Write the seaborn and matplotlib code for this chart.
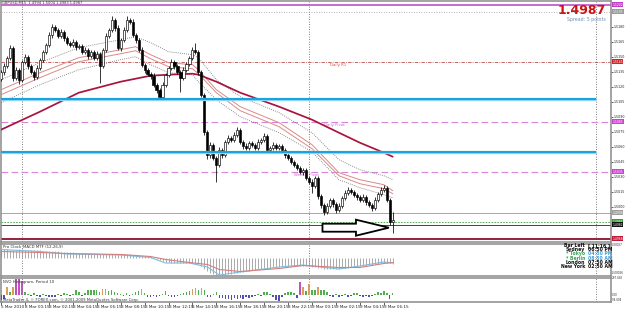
import numpy as np
import pandas as pd
import matplotlib
matplotlib.use("Agg")
import matplotlib.pyplot as plt
import matplotlib.transforms as mtransforms
from matplotlib.patches import FancyArrow
import seaborn as sns

sns.set_theme(style="white")
plt.rcParams['font.family'] = ['DejaVu Sans']

# ---------------- data (GBPUSD M15) ----------------
first_open = 1.5128
close = [
    1.5135, 1.5141, 1.5149, 1.5159, 1.5129, 1.5137, 1.5127, 1.5145, 1.5150, 1.5141,
    1.5135, 1.5130, 1.5139, 1.5147, 1.5155, 1.5162, 1.5172, 1.5180, 1.5177, 1.5171,
    1.5175, 1.5169, 1.5164, 1.5162, 1.5165, 1.5160, 1.5161, 1.5155, 1.5157, 1.5151,
    1.5155, 1.5149, 1.5153, 1.5141, 1.5157, 1.5171, 1.5177, 1.5187, 1.5179, 1.5159,
    1.5167, 1.5177, 1.5187, 1.5185, 1.5172, 1.5167, 1.5157, 1.5142, 1.5137, 1.5133,
    1.5131, 1.5122, 1.5117, 1.5110, 1.5122, 1.5132, 1.5139, 1.5145, 1.5141, 1.5135,
    1.5129, 1.5137, 1.5143, 1.5149, 1.5157, 1.5155, 1.5135, 1.5112, 1.5075, 1.5052,
    1.5062, 1.5049, 1.5042, 1.5057, 1.5052, 1.5065, 1.5069, 1.5067, 1.5072, 1.5077,
    1.5065, 1.5061, 1.5059, 1.5064, 1.5062, 1.5059, 1.5065, 1.5067, 1.5071, 1.5057,
    1.5059, 1.5062, 1.5059, 1.5061, 1.5057, 1.5052, 1.5049, 1.5045, 1.5042, 1.5039,
    1.5035, 1.5037, 1.5029, 1.5025, 1.5021, 1.5029, 1.5011, 1.5002, 1.4995, 1.5001,
    1.5007, 1.5003, 1.4997, 1.5001, 1.5009, 1.5014, 1.5017, 1.5015, 1.5012, 1.5010,
    1.5007, 1.5010, 1.5005, 1.5002, 1.4999, 1.5007, 1.5013, 1.5017, 1.5019, 1.5007,
    1.4985, 1.4987,
]
upper_wick_pips = [
    2, 3, 2, 3, 2, 3, 2, 2, 3, 2,
    2, 2, 3, 2, 2, 2, 3, 3, 2, 2,
    3, 2, 2, 2, 3, 2, 2, 2, 3, 2,
    2, 2, 3, 2, 2, 3, 2, 4, 2, 3,
    2, 3, 4, 2, 3, 2, 2, 3, 2, 2,
    2, 3, 2, 2, 3, 2, 2, 3, 2, 2,
    2, 3, 2, 2, 3, 7, 2, 2, 2, 2,
    3, 2, 2, 3, 2, 2, 3, 2, 3, 3,
    2, 2, 3, 2, 2, 2, 3, 2, 3, 2,
    2, 3, 2, 2, 2, 2, 3, 2, 2, 2,
    2, 2, 2, 2, 3, 2, 2, 2, 2, 3,
    2, 2, 2, 3, 2, 3, 3, 2, 2, 2,
    2, 3, 2, 2, 2, 3, 2, 3, 3, 2,
    2, 8,
]
lower_wick_pips = [
    2, 3, 2, 2, 3, 2, 4, 2, 2, 3,
    2, 3, 2, 2, 2, 2, 2, 3, 2, 2,
    2, 3, 2, 2, 2, 3, 2, 2, 2, 3,
    2, 2, 2, 17, 2, 2, 2, 2, 3, 2,
    3, 2, 2, 2, 2, 3, 2, 2, 3, 2,
    3, 2, 3, 3, 2, 2, 2, 2, 3, 2,
    14, 2, 2, 2, 2, 2, 3, 2, 3, 4,
    3, 2, 17, 2, 3, 2, 2, 2, 2, 2,
    2, 3, 2, 2, 2, 2, 2, 2, 2, 3,
    2, 2, 2, 2, 2, 3, 2, 2, 2, 2,
    2, 3, 2, 2, 7, 2, 3, 3, 3, 2,
    2, 3, 3, 2, 2, 2, 2, 2, 2, 3,
    2, 2, 3, 2, 3, 2, 2, 2, 2, 2,
    3, 11,
]

# moving averages read at sample bars
ma_bars = [0, 13, 26, 40, 45, 50, 56, 64, 66, 72, 80, 93, 104, 113, 120, 128, 131]
ma_slow = [1.5077, 1.5095, 1.5114, 1.5125, 1.5128, 1.5131, 1.5132, 1.5133, 1.5132,
           1.5125, 1.5114, 1.5100, 1.5087, 1.5074, 1.5064, 1.5054, 1.5050]
ma_fast = [1.5117, 1.5134, 1.5149, 1.5157, 1.5160, 1.5152, 1.5144, 1.5142, 1.5137,
           1.5117, 1.5100, 1.5084, 1.5062, 1.5034, 1.5027, 1.5022, 1.5016]
ma_fast2 = [1.5112, 1.5129, 1.5145, 1.5153, 1.5156, 1.5148, 1.5140, 1.5138, 1.5133,
            1.5114, 1.5096, 1.5080, 1.5058, 1.5031, 1.5023, 1.5018, 1.5013]
band_up = [1.5127, 1.5144, 1.5159, 1.5167, 1.5170, 1.5164, 1.5155, 1.5152, 1.5149,
           1.5127, 1.5110, 1.5094, 1.5074, 1.5047, 1.5037, 1.5031, 1.5027]
band_dn = [1.5104, 1.5122, 1.5137, 1.5147, 1.5150, 1.5142, 1.5134, 1.5132, 1.5125,
           1.5107, 1.5090, 1.5074, 1.5055, 1.5027, 1.5019, 1.5012, 1.5009]

# horizontal levels
top_line = 1.5202
grid_line = 1.5195
daily_r1 = 1.5145
daily_pivot = 1.5085
weekly_pivot = 1.5035
sr_levels = [1.5108, 1.5055]
open_line = 1.4994
bid_line = 1.4985
prev_line = 1.4982
low_line = 1.4968

price_ticks = [1.5000, 1.5015, 1.5030, 1.5045, 1.5060, 1.5075, 1.5090, 1.5105,
               1.5120, 1.5135, 1.5150, 1.5165, 1.5180]

# MACD MTF (in points, 1 point = 0.00001)
macd_hist_pts = [
    18, 18, 18, 16, 16, 16, 18, 18, 16, 16,
    16, 16, 16, 16, 14, 14, 14, 14, 14, 14,
    12, 12, 12, 12, 12, 10, 10, 10, 10, 10,
    10, 10, 10, 8, 8, 8, 8, 8, 8, 8,
    8, 8, 8, 8, 6, 6, 6, 4, 4, 2,
    2, 0, -2, -4, -6, -8, -8, -10, -10, -10,
    -10, -10, -10, -10, -10, -10, -12, -16, -22, -26,
    -30, -32, -34, -34, -34, -34, -32, -32, -30, -30,
    -28, -28, -26, -26, -24, -24, -22, -22, -20, -20,
    -20, -18, -18, -18, -18, -16, -16, -16, -16, -16,
    -16, -16, -16, -16, -18, -18, -20, -20, -22, -22,
    -22, -22, -22, -22, -20, -20, -20, -18, -18, -18,
    -16, -16, -16, -14, -14, -12, -12, -10, -10, -10,
    -10, -12,
]
macd_bars = [0, 13, 22, 40, 50, 55, 63, 69, 73, 80, 93, 101, 113, 120, 128, 131]
macd_main_pts = [16, 12, 7, 5, 0, -11, -11, -19, -35, -29, -19, -15, -23, -17, -9, -11]
macd_signal_pts = [12, 10, 8, 6, 2, -4, -10, -14, -24, -28, -22, -16, -20, -20, -12, -10]

# NVO histogram, period 10
nvo = [
    -90, -70, 140, 60, 150, 280, 290, 260, 60, 25,
    -15, 40, -20, -30, 20, -25, -35, -40, -30, 20,
    -20, 30, 25, -15, 20, 90, 60, -20, 40, 95,
    98, 96, 90, 60, 115, 105, 70, 95, 60, 40,
    20, -15, 30, -20, 15, 60, 80, 110, 30, -30,
    -40, -25, -35, -20, 20, 70, -15, -30, -40, -20,
    15, 30, 50, 80, 110, 120, 90, 130, 98, -30,
    -40, 20, 60, -50, -60, -80, -70, -90, -60, -80,
    -50, -70, -40, -60, -30, -20, 15, -15, 60, 50,
    20, -40, -90, -100, -30, 40, 50, 60, 40, -50,
    230, 140, 70, 190, 95, 95, 150, 98, 90, 50,
    -20, -30, 15, -40, -25, 20, -30, -20, 40, 30,
    -20, -35, -25, -40, -20, 20, 50, 30, 70, 40,
    -80, 35,
]

time_labels = ["5 Mar 2010", "8 Mar 00:15", "8 Mar 02:15", "8 Mar 04:15", "8 Mar 06:15",
               "8 Mar 08:15", "8 Mar 10:15", "8 Mar 12:15", "8 Mar 14:15", "8 Mar 16:15",
               "8 Mar 18:15", "8 Mar 20:15", "8 Mar 22:15", "9 Mar 00:15", "9 Mar 02:15",
               "9 Mar 04:15", "9 Mar 06:15"]
time_label_bars = [0, 8, 16, 24, 32, 40, 48, 56, 64, 72, 80, 88, 96, 104, 112, 120, 128]
day_start_bars = [7, 103, 199]

clock_names = ["Bar Left", "Sydney", "* Tokyo", "* Berlin", "London", "New York"]
clock_values = ["[ 11:16 ]", "06:50 PM", "04:50 PM", "08:50 AM", "07:50 AM", "02:50 AM"]

# ---------------- figure ----------------
W, H = 625, 311
fig = plt.figure(figsize=(W / 100, H / 100), dpi=100)
fig.patch.set_facecolor("white")


def px_axes(x0, y0, x1, y1):
    return fig.add_axes([x0 / W, 1 - y1 / H, (x1 - x0) / W, (y1 - y0) / H])


XL = (-0.19, 204.0)
ax = px_axes(0.5, 1, 611, 241.5)
ax2 = px_axes(0.5, 244, 611, 275.5)
ax3 = px_axes(0.5, 277.5, 611, 301.5)

for a in (ax, ax2, ax3):
    a.set_facecolor("white")
    a.set_xlim(*XL)
    for s in a.spines.values():
        s.set_color("#8a8a8a")
        s.set_linewidth(1.1)
    for d in day_start_bars:
        a.axvline(d, color="#555555", lw=0.6, ls=(0, (1, 2)), zorder=1)

# ---- main panel ----
idx = np.arange(len(close))
c = np.array(close)
o = np.array([first_open] + close[:-1])
hi = np.maximum(o, c) + np.array(upper_wick_pips) * 0.0001
lo = np.minimum(o, c) - np.array(lower_wick_pips) * 0.0001

ax.axhline(top_line, color="#c050c8", lw=1.2, zorder=2)
ax.axhline(grid_line, color="#999999", lw=0.6, ls=(0, (1, 2)), zorder=2)
ax.axhline(daily_r1, color="#c04848", lw=0.6, ls=(0, (4, 1.5, 1, 1.5)), zorder=2)
ax.axhline(daily_pivot, color="#d884d8", lw=0.8, ls=(0, (6, 3)), zorder=2)
ax.axhline(weekly_pivot, color="#d884d8", lw=0.8, ls=(0, (6, 3)), zorder=2)
ax.axhline(open_line, color="#a8a8a8", lw=0.7, zorder=2)
ax.axhline(bid_line, color="#40a040", lw=0.6, ls=(0, (2, 1.5)), zorder=2)
ax.axhline(prev_line, color="#444444", lw=0.7, zorder=2)
ax.axhline(low_line, color="#8a1030", lw=1.3, zorder=2)

ax.text(110, daily_r1 - 0.00015, "Daily R1", fontsize=2.8, color="#d05050", va="top", ha="left")
ax.text(108, daily_pivot - 0.00015, "Daily Pivot", fontsize=2.8, color="#d060d0", va="top", ha="left")
ax.text(98, weekly_pivot - 0.00012, "Weekly Pivot", fontsize=2.8, color="#d060d0", va="top", ha="left")

sns.lineplot(x=ma_bars, y=band_up, ax=ax, color="#6a6a6a", lw=0.6, ls=(0, (1, 1.5)), zorder=3)
sns.lineplot(x=ma_bars, y=band_dn, ax=ax, color="#6a6a6a", lw=0.6, ls=(0, (1, 1.5)), zorder=3)
sns.lineplot(x=ma_bars, y=ma_fast, ax=ax, color="#d98a88", lw=0.7, zorder=3)
sns.lineplot(x=ma_bars, y=ma_fast2, ax=ax, color="#d98a88", lw=0.7, zorder=3)
sns.lineplot(x=ma_bars, y=ma_slow, ax=ax, color="#a8143c", lw=1.25, zorder=3)

ax.vlines(idx, lo, hi, color="black", lw=0.55, zorder=4)
bull = c >= o
body_lo = np.minimum(o, c)
body_h = np.maximum(np.abs(c - o), 0.00005)
ax.bar(idx[bull], body_h[bull], bottom=body_lo[bull], width=0.72, color="white",
       edgecolor="black", linewidth=0.45, zorder=5)
ax.bar(idx[~bull], body_h[~bull], bottom=body_lo[~bull], width=0.72, color="black",
       edgecolor="black", linewidth=0.45, zorder=5)

for lvl in sr_levels:
    ax.hlines(lvl, XL[0], day_start_bars[-1], color="#8fd4f2", lw=2.4, zorder=6)
    ax.hlines(lvl, XL[0], day_start_bars[-1], color="#17a2dc", lw=1.4, zorder=6)

arrow_y = 1.4979
ax.add_patch(FancyArrow(107.5, arrow_y, 22.2, 0, width=0.0008, head_width=0.0016,
                        head_length=11, length_includes_head=True, fc="white",
                        ec="black", lw=1.3, zorder=7))

ax.set_ylim(1.49652, 1.52057)
ax.yaxis.tick_right()
ax.set_yticks(price_ticks)
ax.set_yticklabels([f"{p:.4f}" for p in price_ticks])
ax.tick_params(axis="y", labelsize=2.3, length=1.2, width=0.5, pad=0.6, colors="#222222")
ax.set_xticks([])
ax.set_xlabel("")
ax.set_ylabel("")

blend = mtransforms.blended_transform_factory(ax.transAxes, ax.transData)
boxes = [(top_line, "#c040c8"), (grid_line, "#9a9a9a"), (daily_r1, "#d02828"),
         (daily_pivot, "#d040d8"), (weekly_pivot, "#d040d8"), (open_line, "#a0a0a0"),
         (bid_line, "#30a030"), (prev_line, "#101010"), (low_line, "#c01838")]
for p, col in boxes:
    ax.text(1.0025, p, f"{p:.4f}", transform=blend, fontsize=2.2, color="white",
            va="center", ha="left", zorder=10, clip_on=False,
            bbox=dict(boxstyle="square,pad=0.1", fc=col, ec="none"))

fig.text(2 / W, 1 - 3.3 / H, "GBPUSD,M15  1.4994 1.5004 1.4983 1.4987", fontsize=2.6,
         color="#333333", va="center", ha="left")
fig.text(606 / W, 1 - 10.0 / H, "1.4987", fontsize=9, weight="bold", color="#cc1414",
         ha="right", va="center")
fig.text(606 / W, 1 - 19.0 / H, "Spread: 5 points", fontsize=3.4, color="#7090b8",
         ha="right", va="center")

# ---- MACD panel ----
ax2.vlines(idx, 0, macd_hist_pts, color="#9c9c9c", lw=0.6, zorder=2)
sns.lineplot(x=macd_bars, y=macd_main_pts, ax=ax2, color="#7fbde0", lw=0.8, zorder=3)
sns.lineplot(x=macd_bars, y=macd_signal_pts, ax=ax2, color="#d47f7f", lw=0.8, zorder=3)
ax2.set_ylim(-36, 27)
ax2.set_xticks([])
ax2.set_yticks([])
ax2.set_xlabel("")
ax2.set_ylabel("")
ax2.text(0.004, 0.9, "Pro Clock", transform=ax2.transAxes, fontsize=2.8, color="#333333",
         va="center", ha="left")
ax2.text(0.037, 0.9, "MACD MTF (12,26,9)", transform=ax2.transAxes, fontsize=2.8,
         color="#333333", va="center", ha="left")
b2 = mtransforms.blended_transform_factory(ax2.transAxes, ax2.transData)
ax2.text(1.002, 24, "0.00027", transform=b2, fontsize=2.0, color="#333333", va="center",
         ha="left", clip_on=False)
ax2.text(1.002, -31, "-0.00036", transform=b2, fontsize=2.0, color="#333333",
         va="center", ha="left", clip_on=False)

rows_y = [245.2, 249.5, 253.8, 258.1, 262.4, 266.7]
for k, (nm, val) in enumerate(zip(clock_names, clock_values)):
    green = nm.startswith("*")
    fig.text(585 / W, 1 - rows_y[k] / H, nm, fontsize=3.3, weight="bold",
             color="#3aa655" if green else "#111111", ha="right", va="center")
    fig.text(587.5 / W, 1 - rows_y[k] / H, val, fontsize=3.3, weight="bold",
             color="#3c9fe0" if green else "#111111", ha="left", va="center")

# ---- NVO panel ----
kind = np.where(np.array(nvo) >= 200, "high",
                np.where(np.array(nvo) >= 100, "mid",
                         np.where(np.array(nvo) > 0, "pos", "neg")))
df_nvo = pd.DataFrame({"bar": idx, "nvo": nvo, "kind": kind})
pal = {"high": "#d040d0", "mid": "#f0a040", "pos": "#40c040", "neg": "#4040c0"}
sns.barplot(data=df_nvo, x="bar", y="nvo", hue="kind", palette=pal, dodge=False,
            native_scale=True, width=0.5, errorbar=None, legend=False, linewidth=0,
            ax=ax3, zorder=3)
ax3.set_xlim(*XL)
ax3.set_ylim(-117, 315)
ax3.set_xlabel("")
ax3.set_ylabel("")
ax3.set_yticks([])
ax3.set_xticks(time_label_bars)
ax3.set_xticklabels(time_labels, ha="left")
ax3.tick_params(axis="x", labelsize=3.0, length=1.8, width=0.5, pad=0.8, colors="#222222",
                direction="out", bottom=True)
ax3.text(0.004, 0.83, "NVO Histogram, Period 10", transform=ax3.transAxes, fontsize=2.8,
         color="#333333", va="center", ha="left")
ax3.text(0.004, 0.06, "MetaTrader 4, \u00a9 FOREX.com, \u00a9 2001-2009 MetaQuotes Software Corp.",
         transform=ax3.transAxes, fontsize=2.7, color="#333333", va="center", ha="left")
b3 = mtransforms.blended_transform_factory(ax3.transAxes, ax3.transData)
for v, t in [(297.685, "297.685"), (0, "0.00"), (-94.004, "-94.004")]:
    ax3.text(1.002, v, t, transform=b3, fontsize=2.0, color="#333333", va="center",
             ha="left", clip_on=False)

fig.savefig("out.png", dpi=100, facecolor="white")
